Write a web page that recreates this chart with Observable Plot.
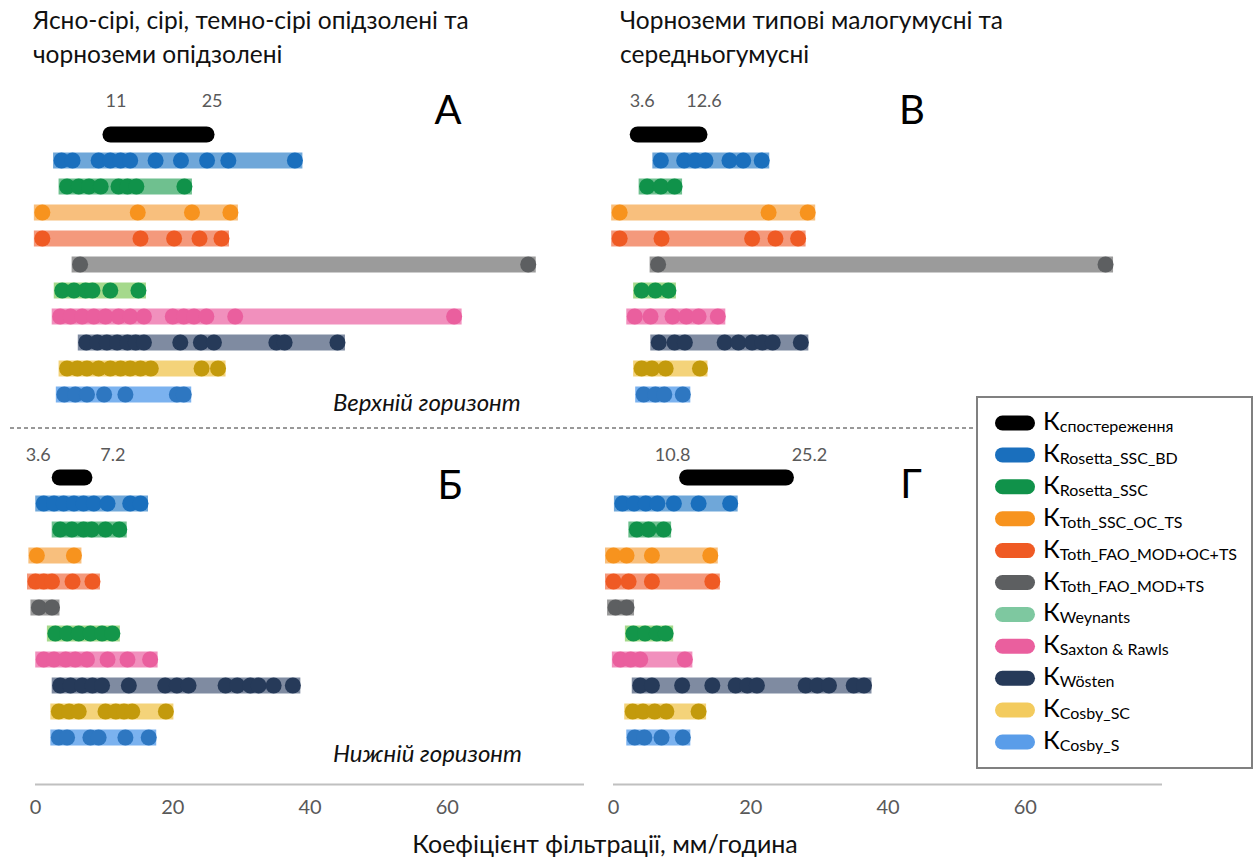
<!DOCTYPE html>
<html><head><meta charset="utf-8">
<script src="https://cdn.jsdelivr.net/npm/d3@7"></script>
<script src="https://cdn.jsdelivr.net/npm/@observablehq/plot@0.6"></script>
<style>
body{margin:0;background:#fff;}
#chart svg{display:block;}
</style></head>
<body><div id="chart"></div>
<script>
// ---- categories ----
const rows = ["obs","rosetta_bd","rosetta_ssc","toth_ssc","toth_fao_oc","toth_fao","weynants","saxton","wosten","cosby_sc","cosby_s"];
const legendLabels = ["спостереження","Rosetta_SSC_BD","Rosetta_SSC","Toth_SSC_OC_TS","Toth_FAO_MOD+OC+TS","Toth_FAO_MOD+TS","Weynants","Saxton & Rawls","Wösten","Cosby_SC","Cosby_S"];
const panelNames = ["А","В","Б","Г"];
const panelCol = ["left","right","left","right"];
const panelRow = ["upper","upper","lower","lower"];
const columnTitles = [["Ясно-сірі, сірі, темно-сірі опідзолені та","чорноземи опідзолені"],["Чорноземи типові малогумусні та","середньогумусні"]];
const horizonLabels = ["Верхній горизонт","Нижній горизонт"];
const axisTitle = "Коефіцієнт фільтрації, мм/година";
const xDomain = [0, 80];
const xTicks = [0, 20, 40, 60];

// ---- observed ranges ----
const obsA = [11, 25];
const obsV = [3.6, 12.6];
const obsB = [3.6, 7.2];
const obsG = [10.8, 25.2];

// ---- model values (rows 2..11, legend order) ----
const valuesA = [
  [3.8, 5.4, 9.2, 10.9, 12.4, 13.8, 17.5, 21.2, 25.0, 28.1, 37.8],
  [4.6, 6.3, 7.8, 9.5, 12.1, 13.4, 14.7, 21.7],
  [1.0, 14.9, 22.8, 28.4],
  [1.0, 15.3, 20.2, 23.9, 27.1],
  [6.5, 71.8],
  [3.9, 5.6, 7.3, 8.3, 10.9, 15.0],
  [3.6, 5.1, 6.8, 8.5, 10.2, 12.1, 13.8, 15.8, 20.0, 21.6, 23.1, 24.9, 29.1, 61.0],
  [7.4, 9.0, 10.4, 11.9, 13.4, 14.6, 15.8, 21.1, 24.1, 26.0, 35.1, 36.3, 44.0],
  [4.6, 6.1, 7.5, 9.2, 10.9, 12.4, 13.8, 15.3, 16.8, 24.2, 26.6],
  [4.2, 5.8, 7.5, 10.0, 13.1, 20.6, 21.6]
];
const valuesV = [
  [6.9, 10.3, 11.9, 13.4, 16.9, 18.9, 21.6],
  [4.9, 6.9, 8.9],
  [0.9, 22.6, 28.3],
  [0.9, 7.0, 20.2, 23.6, 26.9],
  [6.5, 71.7],
  [4.1, 6.1, 8.0],
  [3.1, 5.4, 8.6, 10.6, 12.4, 15.2],
  [6.6, 8.9, 10.4, 16.2, 18.2, 20.2, 21.7, 23.2, 27.3],
  [4.1, 5.6, 7.6, 12.6],
  [4.4, 6.1, 7.4, 10.1]
];
const valuesB = [
  [1.2, 2.7, 4.1, 5.6, 7.0, 8.5, 10.5, 13.8, 15.3],
  [3.6, 5.3, 7.0, 8.2, 10.2, 12.2],
  [0.2, 5.6],
  [0.0, 1.2, 2.4, 5.4, 8.3],
  [0.5, 2.4],
  [2.9, 4.6, 6.3, 8.0, 9.7, 11.2],
  [1.2, 2.7, 4.4, 5.8, 7.5, 10.5, 13.4, 16.7],
  [3.6, 5.1, 6.8, 8.3, 9.7, 13.6, 18.9, 20.6, 22.3, 27.7, 29.4, 31.3, 32.5, 34.7, 37.5],
  [3.4, 4.9, 6.3, 10.2, 11.7, 12.9, 14.1, 19.0],
  [3.4, 4.6, 8.0, 9.2, 13.1, 16.5]
];
const valuesG = [
  [1.3, 3.0, 4.7, 6.4, 8.8, 12.4, 17.0],
  [3.4, 5.1, 7.3],
  [0.0, 1.9, 5.6, 14.1],
  [0.0, 2.2, 5.6, 14.4],
  [0.3, 1.9],
  [2.9, 4.6, 6.3, 7.6],
  [1.0, 2.5, 3.9, 10.4],
  [3.9, 5.6, 10.0, 14.4, 17.8, 19.5, 20.9, 28.0, 29.7, 31.4, 35.0, 36.5],
  [2.8, 4.3, 6.0, 7.7, 12.4],
  [3.1, 4.5, 7.0, 10.1]
];

// ---- colours ----
const dotColors = ["#000000","#1a6fbd","#10924a","#f7931e","#ef5a24","#5d5f61","#13964a","#ea5f9e","#263a59","#c39a0c","#2e77c1"];
const barColors = ["#000000","#6fa7d9","#6fc08f","#f8bf7d","#f4997c","#9b9b9b","#a5d98c","#f190bd","#7f8ba1","#f4d37a","#7bb2ef"];
const legendColors = ["#000000","#1a6fbd","#10924a","#f7931e","#ef5a24","#5d5f61","#7ec8a0","#ea5f9e","#263a59","#f3cb5e","#5a9de9"];

// ---- build tables ----
const observed = [obsA, obsV, obsB, obsG];
const modelValues = [valuesA, valuesV, valuesB, valuesG];
const bars = [], dots = [], obsBars = [], obsLabels = [];
panelNames.forEach((p, pi) => {
  const fx = panelCol[pi], fy = panelRow[pi];
  obsBars.push({panel: p, fx, fy, row: "obs", x1: observed[pi][0], x2: observed[pi][1]});
  observed[pi].forEach((v, j) => obsLabels.push({panel: p, fx, fy, row: "obs", v, j}));
  modelValues[pi].forEach((vals, i) => {
    const row = rows[i + 1];
    bars.push({fx, fy, row, x1: d3.min(vals), x2: d3.max(vals), color: barColors[i + 1]});
    vals.forEach(v => dots.push({fx, fy, row, v, color: dotColors[i + 1]}));
  });
});
const axisLines = ["left","right"].map(c => ({fx: c, fy: "lower", row: rows[rows.length - 1], x1: xDomain[0], x2: xDomain[1]}));

// label layout (pixel offsets per panel)
const labelLayout = {"А": {dx: [5, 5], dy: -33}, "В": {dx: [4, 4], dy: -33}, "Б": {dx: [-22, 28], dy: -22}, "Г": {dx: [-15, 23], dy: -22}};
const labelMarks = [];
panelNames.forEach(p => {
  [0, 1].forEach(j => {
    labelMarks.push(Plot.text(obsLabels.filter(d => d.panel === p && d.j === j), {
      fx: "fx", fy: "fy", x: "v", y: "row", text: d => String(d.v),
      dx: labelLayout[p].dx[j], dy: labelLayout[p].dy, fontSize: 18, fill: "#595959", fontFamily: "Lato"
    }));
  });
});

const font = "Lato, 'Open Sans', sans-serif";
const chart = Plot.plot({
  width: 1258, height: 859,
  marginLeft: 35, marginRight: 96, marginTop: 133, marginBottom: 121,
  x: {domain: xDomain},
  y: {domain: rows, axis: null, padding: 0},
  fx: {domain: ["left","right"], paddingInner: 0.0502, paddingOuter: 0, axis: null},
  fy: {domain: ["upper","lower"], paddingInner: 0.239, paddingOuter: 0, axis: null},
  color: {type: "identity"},
  style: {fontFamily: font, background: "#fff"},
  marks: [
    Plot.ruleY(axisLines, {fx: "fx", fy: "fy", y: "row", x1: "x1", x2: "x2", dy: 47, stroke: "#c0c0c0", strokeWidth: 2}),
    Plot.axisX({ticks: xTicks, tickSize: 0, tickPadding: 62, fontSize: 20, fill: "#595959", label: null, fontFamily: font}),
    Plot.ruleY(bars, {fx: "fx", fy: "fy", y: "row", x1: "x1", x2: "x2", stroke: "color", strokeWidth: 16, strokeLinecap: "square"}),
    Plot.ruleY(obsBars, {fx: "fx", fy: "fy", y: "row", x1: "x1", x2: "x2", stroke: "#000", strokeWidth: 16, strokeLinecap: "round"}),
    Plot.dot(dots, {fx: "fx", fy: "fy", x: "v", y: "row", r: 8, fill: "color"}),
    ...labelMarks
  ]
});
document.getElementById("chart").appendChild(chart);

// ---- annotations ----
const svg = d3.select(chart);
const ann = svg.append("g").attr("font-family", font).attr("text-anchor", "start");
// column titles
const titlePos = [[33, 29], [620, 29]];
columnTitles.forEach((lines, i) => {
  lines.forEach((t, k) => ann.append("text").attr("x", titlePos[i][0]).attr("y", titlePos[i][1] + k * 34)
    .attr("text-anchor", "start").attr("font-size", 24.5).attr("fill", "#111").text(t));
});
// panel letters
const letterPos = [[448, 124], [912, 124], [450, 499], [911, 498]];
panelNames.forEach((p, i) => ann.append("text").attr("x", letterPos[i][0]).attr("y", letterPos[i][1])
  .attr("text-anchor", "middle").attr("font-size", 40).attr("fill", "#000").text(p));
// horizon labels
[[333, 411], [333, 762]].forEach((pos, i) => ann.append("text").attr("x", pos[0]).attr("y", pos[1])
  .attr("text-anchor", "start").attr("font-size", 24).attr("font-style", "italic").attr("fill", "#111").text(horizonLabels[i]));
// dashed separator
ann.append("line").attr("x1", 10).attr("x2", 977).attr("y1", 428).attr("y2", 428)
  .attr("stroke", "#333").attr("stroke-dasharray", "4,3").attr("stroke-width", 1);
// axis title
ann.append("text").attr("x", 605).attr("y", 853).attr("text-anchor", "middle")
  .attr("font-size", 25).attr("fill", "#111").text(axisTitle);
// legend
const lg = ann.append("g");
lg.append("rect").attr("x", 977).attr("y", 397).attr("width", 275).attr("height", 371)
  .attr("fill", "#fff").attr("stroke", "#808080").attr("stroke-width", 2);
legendLabels.forEach((lab, i) => {
  const cy = 423 + i * 31.9;
  lg.append("rect").attr("x", 995).attr("y", cy - 7.5).attr("width", 40).attr("height", 15)
    .attr("rx", 7.5).attr("fill", legendColors[i]);
  const t = lg.append("text").attr("x", 1043).attr("y", cy + 7).attr("text-anchor", "start").attr("fill", "#000");
  t.append("tspan").attr("font-size", 25).text("К");
  t.append("tspan").attr("font-size", 16).attr("dy", 2).text(lab);
});
</script>
</body></html>
